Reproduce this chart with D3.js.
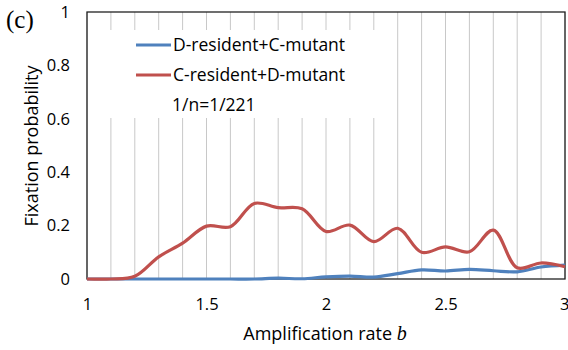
<!DOCTYPE html>
<html>
<head>
<meta charset="utf-8">
<script src="https://cdn.jsdelivr.net/npm/d3@7"></script>
<style>
  body { margin: 0; background: #fff; }
  svg { display: block; }
</style>
</head>
<body>
<svg width="568" height="350"></svg>
<script>
// amplification rate b, steps of 0.1
const bValues = [1.0, 1.1, 1.2, 1.3, 1.4, 1.5, 1.6, 1.7, 1.8, 1.9, 2.0,
  2.1, 2.2, 2.3, 2.4, 2.5, 2.6, 2.7, 2.8, 2.9, 3.0];

// D-resident + C-mutant
const dResident = [0, 0, 0, 0, 0, 0, 0, 0, 0.003, 0.001, 0.008,
  0.011, 0.007, 0.02, 0.034, 0.03, 0.036, 0.031, 0.027, 0.045, 0.052];

// C-resident + D-mutant
const cResident = [0, 0, 0.01, 0.083, 0.134, 0.198, 0.196, 0.283, 0.267, 0.263, 0.178,
  0.202, 0.14, 0.19, 0.1, 0.12, 0.102, 0.183, 0.042, 0.06, 0.046];

const seriesNames = ["D-resident+C-mutant", "C-resident+D-mutant"];
const seriesColors = ["#4f81bd", "#c0504d"];
const xTicks = [1, 1.5, 2, 2.5, 3];
const yTicks = [0, 0.2, 0.4, 0.6, 0.8, 1];
const noteText = "1/n=1/221";

const svg = d3.select("svg");
const margin = {top: 12, right: 3, bottom: 71, left: 87};
const W = 568, H = 350;
const font = "'Open Sans', 'Noto Sans', sans-serif";

const x = d3.scaleLinear().domain([1, 3]).range([margin.left, W - margin.right]);
const y = d3.scaleLinear().domain([0, 1]).range([H - margin.bottom, margin.top]);

// vertical gridlines every 0.1
svg.append("g")
  .selectAll("line")
  .data(bValues)
  .join("line")
  .attr("x1", d => x(d)).attr("x2", d => x(d))
  .attr("y1", y(1)).attr("y2", y(0))
  .attr("stroke", "#c8c8c8")
  .attr("stroke-width", 1);

// legend background hides the grid
svg.append("rect")
  .attr("x", 100).attr("y", 30)
  .attr("width", 285).attr("height", 88)
  .attr("fill", "#fff");

// plot frame
svg.append("rect")
  .attr("x", x(1)).attr("y", y(1))
  .attr("width", x(3) - x(1)).attr("height", y(0) - y(1))
  .attr("fill", "none")
  .attr("stroke", "#222")
  .attr("stroke-width", 1.3);

// lines
const line = d3.line().curve(d3.curveCatmullRom.alpha(0.5));
[dResident, cResident].forEach((vals, i) => {
  svg.append("path")
    .datum(bValues.map((b, j) => [x(b), y(vals[j])]))
    .attr("d", line)
    .attr("fill", "none")
    .attr("stroke", seriesColors[i])
    .attr("stroke-width", 3.2)
    .attr("stroke-linejoin", "round");
});

// axes
const xAxis = svg.append("g")
  .attr("transform", `translate(0,${y(0)})`)
  .call(d3.axisBottom(x).tickValues(xTicks).tickFormat(d3.format("")).tickSize(0).tickPadding(19));
xAxis.select(".domain").remove();
// keep the last label inside the picture
xAxis.selectAll(".tick text").filter(d => d === 3).attr("text-anchor", "end").attr("dx", 4);

const yAxis = svg.append("g")
  .attr("transform", `translate(${x(1)},0)`)
  .call(d3.axisLeft(y).tickValues(yTicks).tickFormat(d3.format("")).tickSize(0).tickPadding(17));
yAxis.select(".domain").remove();

svg.selectAll(".tick text")
  .attr("font-family", font)
  .attr("font-size", 16.5)
  .attr("fill", "#000");

// axis titles
svg.append("text")
  .attr("x", 325).attr("y", 340)
  .attr("text-anchor", "middle")
  .attr("font-family", font)
  .attr("font-size", 18)
  .text("Amplification rate ")
  .append("tspan")
  .attr("font-family", "'Liberation Serif', serif")
  .attr("font-style", "italic")
  .attr("font-size", 20)
  .text("b");

svg.append("text")
  .attr("transform", "translate(38,146) rotate(-90)")
  .attr("text-anchor", "middle")
  .attr("font-family", font)
  .attr("font-size", 18)
  .text("Fixation probability");

// panel label
svg.append("text")
  .attr("x", 6).attr("y", 28)
  .attr("font-family", "'Liberation Serif', serif")
  .attr("font-size", 25)
  .text("(c)");

// legend
const leg = svg.append("g").attr("font-family", font).attr("font-size", 17.5);
seriesNames.forEach((name, i) => {
  const ly = 45 + i * 30;
  leg.append("line")
    .attr("x1", 136).attr("x2", 171)
    .attr("y1", ly).attr("y2", ly)
    .attr("stroke", seriesColors[i])
    .attr("stroke-width", 3.2);
  leg.append("text")
    .attr("x", 173).attr("y", ly)
    .attr("dy", "0.35em")
    .text(name);
});
leg.append("text")
  .attr("x", 172).attr("y", 105)
  .attr("dy", "0.35em")
  .text(noteText);
</script>
</body>
</html>
